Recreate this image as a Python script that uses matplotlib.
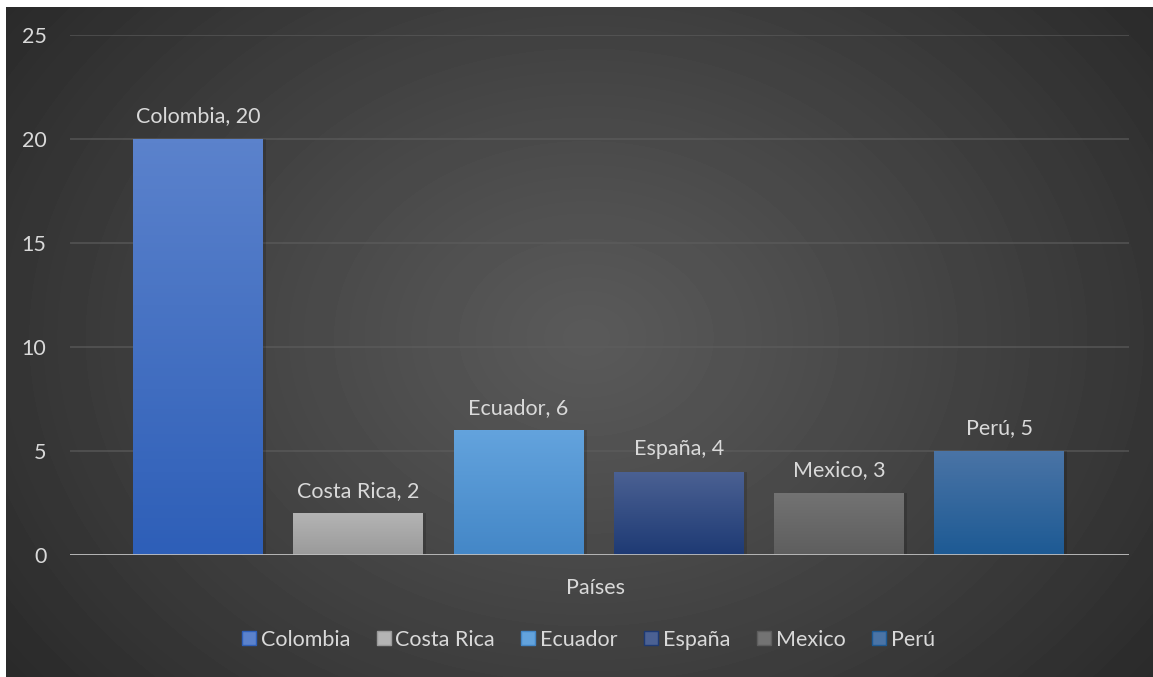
import numpy as np
import matplotlib.pyplot as plt
from matplotlib.colors import LinearSegmentedColormap
from matplotlib.lines import Line2D

paises = ["Colombia", "Costa Rica", "Ecuador", "España", "Mexico", "Perú"]
valores = [20, 2, 6, 4, 3, 5]
yticks = [0, 5, 10, 15, 20, 25]

# (top colour, bottom colour) of each bar's gradient
colores = [("#5b82cc", "#2e5fb8"), ("#b4b4b4", "#9a9a9a"), ("#63a3dd", "#4487c7"),
           ("#4b6193", "#1e3a74"), ("#737373", "#5e5e5e"), ("#4a74a6", "#1d5a94")]

plt.rcParams["font.family"] = ["Lato", "DejaVu Sans"]
txt = "#d9d9d9"
fs = 15.5

W, H = 1153, 677
fig = plt.figure(figsize=(W / 100, H / 100), dpi=100, facecolor="white")

# background panel with radial gradient
bg = fig.add_axes([6 / W, 0, 1 - 6 / W, 670 / H])
bg.set_axis_off()
yy, xx = np.mgrid[0:670, 0:1147]
r = np.sqrt(((xx - 580) / 720.0) ** 2 + ((yy - 330) / 560.0) ** 2)
r = np.clip(r, 0, 1)
grad = 0.352 - (0.352 - 0.165) * r ** 1.1
bg.imshow(grad, cmap="gray", vmin=0, vmax=1, aspect="auto",
          extent=(0, 1, 0, 1), interpolation="bilinear")
bg.set_xlim(0, 1)
bg.set_ylim(0, 1)

ax = fig.add_axes([70 / W, (H - 555) / H, (1129 - 70) / W, (555 - 35) / H])
ax.patch.set_alpha(0)
x = np.arange(len(paises))
ax.set_xlim(-0.80, 5.81)
ax.set_ylim(0, 25)

bars = ax.bar(x, valores, width=0.81, color="none", zorder=3)
for b, (ctop, cbot) in zip(bars, colores):
    cmap = LinearSegmentedColormap.from_list("g", [cbot, ctop])
    g = np.linspace(0, 1, 100).reshape(-1, 1)
    x0 = b.get_x()
    im = ax.imshow(g, cmap=cmap, origin="lower", aspect="auto",
                   extent=(x0, x0 + b.get_width(), 0, b.get_height()), zorder=3)
    im.set_clip_path(b)
    # soft shadow on the right side
    ax.bar(b.get_x() + b.get_width() / 2 + 0.02, b.get_height(), width=b.get_width(),
           color="black", alpha=0.15, zorder=2)

for xi, (p, v) in enumerate(zip(paises, valores)):
    ax.annotate(f"{p}, {v}", (xi, v), xytext=(0, 9), textcoords="offset points",
                ha="center", va="bottom", color=txt, fontsize=fs)

ax.set_yticks(yticks)
ax.grid(axis="y", color="#5e5e5e", linewidth=1.2, alpha=0.7, zorder=1)
ax.axhline(0, color="#bfbfbf", linewidth=2, zorder=4)
ax.set_xticks([])
ax.tick_params(axis="y", length=0, pad=17, labelcolor=txt, labelsize=fs)
for s in ax.spines.values():
    s.set_visible(False)

fig.text(596 / W, (H - 588) / H, "Países", ha="center", va="center",
         color=txt, fontsize=fs)

handles = [Line2D([], [], marker="s", linestyle="none", markersize=10,
                  markerfacecolor=c[0], markeredgecolor=c[1], label=p)
           for p, c in zip(paises, colores)]
fig.legend(handles=handles, loc="center", bbox_to_anchor=(587 / W, (H - 640) / H),
           ncol=6, frameon=False, fontsize=fs, labelcolor=txt,
           handletextpad=0.1, columnspacing=1.1, handlelength=0.9)

fig.savefig("out.png", dpi=100, facecolor="white")
